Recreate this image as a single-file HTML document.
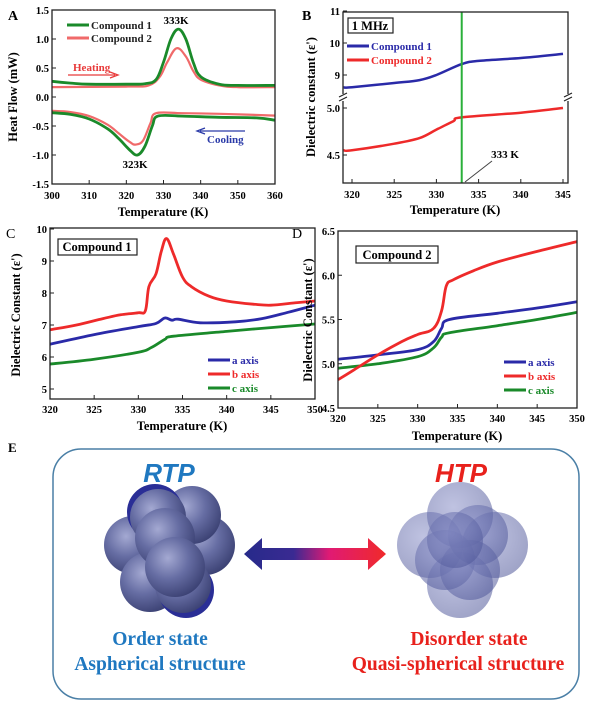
<!DOCTYPE html>
<html><head><meta charset="utf-8"><style>
body{margin:0;background:#fff;}
svg{display:block;font-family:"Liberation Serif",serif;font-weight:bold;}
</style></head><body>
<svg id="fig" width="600" height="709" viewBox="0 0 600 709">
<defs>
<radialGradient id="sph" cx="0.38" cy="0.35" r="0.7">
<stop offset="0" stop-color="#a4a9d2"/><stop offset="0.5" stop-color="#666da3"/><stop offset="1" stop-color="#3a4072"/>
</radialGradient>
<radialGradient id="sph2" cx="0.4" cy="0.38" r="0.7">
<stop offset="0" stop-color="#8b91c9" stop-opacity="0.55"/><stop offset="1" stop-color="#4c5496" stop-opacity="0.55"/>
</radialGradient>
<linearGradient id="arrg" x1="0" x2="1" y1="0" y2="0">
<stop offset="0" stop-color="#262a8a"/><stop offset="0.35" stop-color="#3a2a92"/><stop offset="0.6" stop-color="#e01a74"/><stop offset="1" stop-color="#f02a2a"/>
</linearGradient>
</defs>
<g id="panels"></g>
<!-- Panel E -->
<g>
<text x="8" y="452" font-size="13">E</text>
<rect x="53" y="449" width="526" height="250" rx="28" fill="none" stroke="#4a7fa6" stroke-width="1.5"/>
<text x="169" y="482" font-size="26" font-style="italic" fill="#1f78c0" text-anchor="middle" font-family="Liberation Sans,sans-serif">RTP</text>
<text x="461" y="482" font-size="26" font-style="italic" fill="#e8211c" text-anchor="middle" font-family="Liberation Sans,sans-serif">HTP</text>
<g>
<circle cx="133" cy="545" r="29" fill="url(#sph)"/>
<circle cx="205" cy="545" r="30" fill="url(#sph)"/>
<circle cx="150" cy="582" r="30" fill="url(#sph)"/>
<circle cx="192" cy="515" r="29" fill="url(#sph)"/>
<circle cx="155" cy="512" r="28" fill="#2a2e96"/>
<circle cx="186" cy="590" r="28" fill="#2a2e96"/>
<circle cx="158" cy="517" r="28" fill="url(#sph)"/>
<circle cx="183" cy="585" r="28" fill="url(#sph)"/>
<circle cx="165" cy="538" r="30" fill="url(#sph)"/>
<circle cx="175" cy="567" r="30" fill="url(#sph)"/>
</g>
<g>
<circle cx="430" cy="545" r="33" fill="url(#sph2)"/>
<circle cx="495" cy="545" r="33" fill="url(#sph2)"/>
<circle cx="460" cy="515" r="33" fill="url(#sph2)"/>
<circle cx="460" cy="585" r="33" fill="url(#sph2)"/>
<circle cx="445" cy="560" r="30" fill="url(#sph2)"/>
<circle cx="478" cy="535" r="30" fill="url(#sph2)"/>
<circle cx="470" cy="570" r="30" fill="url(#sph2)"/>
<circle cx="455" cy="540" r="28" fill="url(#sph2)"/>
</g>
<path d="M244,554 L262,538 L262,548 L368,548 L368,538 L386,554 L368,570 L368,560 L262,560 L262,570 Z" fill="url(#arrg)"/>
<g font-size="19.5" text-anchor="middle">
<text x="160" y="645" fill="#1f78c0">Order state</text>
<text x="160" y="670" fill="#1f78c0">Aspherical structure</text>
<text x="469" y="645" fill="#e8211c">Disorder state</text>
<text x="458" y="670" fill="#e8211c">Quasi-spherical structure</text>
</g>
</g>
</svg>
<script>
// ---- Panel A data ----
const aHeatC1X=[300,305,310,320,325,328,330,332,334,336,338,340,345,350,360];
const aHeatC1Y=[0.27,0.24,0.22,0.22,0.23,0.30,0.60,1.00,1.17,1.00,0.60,0.35,0.22,0.20,0.20];
const aHeatC2X=[300,320,326,329,331,333.5,336,338,340,345,350,360];
const aHeatC2Y=[0.17,0.18,0.20,0.35,0.60,0.84,0.70,0.45,0.30,0.20,0.17,0.17];
const aCoolC1X=[300,305,310,315,318,321,323,325,327,328.5,335,345,355,360];
const aCoolC1Y=[-0.27,-0.30,-0.38,-0.55,-0.72,-0.92,-1.00,-0.85,-0.50,-0.33,-0.33,-0.35,-0.36,-0.40];
const aCoolC2X=[300,305,310,315,318,321,322.5,324.5,326.5,328,335,345,360];
const aCoolC2Y=[-0.24,-0.26,-0.33,-0.48,-0.63,-0.78,-0.82,-0.75,-0.45,-0.28,-0.28,-0.29,-0.32];
const aXTicks=[300,310,320,330,340,350,360];
const aYTicks=[-1.5,-1.0,-0.5,0.0,0.5,1.0,1.5];
// ---- Panel B data ----
const bX=[319,320,325,328,330,333,335,340,345];
const bC1=[8.61,8.62,8.75,8.84,9.0,9.34,9.44,9.53,9.66];
const bC2X=[319,320,325,328,330,332,333,340,345];
const bC2=[4.55,4.55,4.62,4.68,4.77,4.86,4.9,4.95,5.0];
const bXTicks=[320,325,330,335,340,345];
const bYTicksUpper=[9,10,11];
const bYTicksLower=[4.5,5.0];
// ---- Panel C data ----
const cBX=[320,323,326,328,330,330.8,331.2,332,332.6,333.2,334,335,336,338,340,343,345,348,350];
const cBY=[6.85,7.0,7.2,7.32,7.38,7.45,8.2,8.6,9.3,9.7,9.2,8.5,8.2,7.9,7.75,7.65,7.62,7.7,7.75];
const cAX=[320,325,330,332,333,333.8,334.5,337,341,344,347,350];
const cAY=[6.4,6.7,6.95,7.05,7.22,7.15,7.18,7.07,7.1,7.2,7.4,7.62];
const cCX=[320,325,330,331.5,333,334,340,345,350];
const cCY=[5.78,5.93,6.15,6.3,6.55,6.65,6.8,6.92,7.03];
const cXTicks=[320,325,330,335,340,345,350];
const cYTicks=[5,6,7,8,9,10];
// ---- Panel D data ----
const dBX=[320,322,325,328,330,332,333,333.6,334.5,337,340,345,350];
const dBY=[4.82,4.93,5.1,5.25,5.33,5.4,5.6,5.88,5.95,6.05,6.15,6.27,6.38];
const dAX=[320,325,330,332,333,334,340,345,350];
const dAY=[5.05,5.1,5.16,5.25,5.4,5.5,5.57,5.63,5.7];
const dCX=[320,325,330,332,333,334,340,345,350];
const dCY=[4.95,5.0,5.08,5.18,5.3,5.35,5.43,5.5,5.58];
const dXTicks=[320,325,330,335,340,345,350];
const dYTicks=[4.5,5.0,5.5,6.0,6.5];

const NS="http://www.w3.org/2000/svg";
const root=document.getElementById('panels');
function el(tag,attrs,parent,text){const e=document.createElementNS(NS,tag);for(const k in attrs)e.setAttribute(k,attrs[k]);if(text!==undefined)e.textContent=text;(parent||root).appendChild(e);return e;}
function lin(d0,d1,r0,r1){return v=>r0+(v-d0)*(r1-r0)/(d1-d0);}
function pathD(xs,ys,sx,sy){
  const P=xs.map((x,i)=>[sx(x),sy(ys[i])]);
  let d='M'+P[0][0].toFixed(1)+','+P[0][1].toFixed(1);
  for(let i=0;i<P.length-1;i++){
    const p0=P[Math.max(0,i-1)],p1=P[i],p2=P[i+1],p3=P[Math.min(P.length-1,i+2)];
    const t=0.18;
    const c1=[p1[0]+(p2[0]-p0[0])*t,p1[1]+(p2[1]-p0[1])*t];
    const c2=[p2[0]-(p3[0]-p1[0])*t,p2[1]-(p3[1]-p1[1])*t];
    d+=` C${c1[0].toFixed(1)},${c1[1].toFixed(1)} ${c2[0].toFixed(1)},${c2[1].toFixed(1)} ${p2[0].toFixed(1)},${p2[1].toFixed(1)}`;
  }
  return d;
}
function series(g,xs,ys,sx,sy,color,w,name){
  const p=el('path',{d:pathD(xs,ys,sx,sy),fill:'none',stroke:color,'stroke-width':w,'stroke-linejoin':'round'},g);
  
  
}
function frame(g,x0,y0,x1,y1){const r=el('rect',{x:x0,y:y0,width:x1-x0,height:y1-y0,fill:'none',stroke:'#222','stroke-width':1.3},g);
  
  }
function xAxis(g,ticks,sx,y1,labY,fmt){
  ticks.forEach(t=>{el('line',{x1:sx(t),x2:sx(t),y1:y1,y2:y1-4,stroke:'#222'},g);
    const tx=el('text',{x:sx(t),y:labY,'font-size':10.5,'text-anchor':'middle'},g,fmt?fmt(t):t);
    
    });
}
function yAxis(g,ticks,sy,x0,fmt){
  ticks.forEach(t=>{el('line',{x1:x0,x2:x0+4,y1:sy(t),y2:sy(t),stroke:'#222'},g);
    const tx=el('text',{x:x0-3,y:sy(t)+4,'font-size':10.5,'text-anchor':'end'},g,fmt?fmt(t):t);
    
    });
}
function title(g,x,y,txt,rot,name){const t=el('text',{x:x,y:y,'font-size':12.5,'text-anchor':'middle',transform:rot?`rotate(-90 ${x} ${y})`:''},g,txt);
  
  }
function legendEntry(g,x,y,color,txt,tc,name){el('line',{x1:x,x2:x+22,y1:y,y2:y,stroke:color,'stroke-width':3},g);
  const t=el('text',{x:x+24,y:y+4,'font-size':11,fill:tc},g,txt);
  
  }
const f1=v=>v.toFixed(1);

// ===== Panel A =====
(function(){
 const g=el('g',{});
 
 
 const sx=lin(300,360,52,275), sy=lin(-1.5,1.5,184,10);
 el('text',{x:8,y:20,'font-size':14},g,'A');
 series(g,aHeatC2X,aHeatC2Y,sx,sy,'#f06a6a',2.2,'compound2-heating');
 series(g,aCoolC2X,aCoolC2Y,sx,sy,'#f06a6a',2.2,'compound2-cooling');
 series(g,aHeatC1X,aHeatC1Y,sx,sy,'#1a8a2a',2.8,'compound1-heating');
 series(g,aCoolC1X,aCoolC1Y,sx,sy,'#1a8a2a',2.8,'compound1-cooling');
 frame(g,52,10,275,184);
 xAxis(g,aXTicks,sx,184,199);
 yAxis(g,aYTicks,sy,52,f1);
 title(g,163,216,'Temperature (K)',false,'x-axis-title-a');
 title(g,17,97,'Heat Flow (mW)',true,'y-axis-title-a');
 legendEntry(g,67,25,'#1a8a2a','Compound 1','#222','legend-compound1-a');
 legendEntry(g,67,38,'#f06a6a','Compound 2','#222','legend-compound2-a');
 el('text',{x:176,y:24,'font-size':11,'text-anchor':'middle'},g,'333K');
 el('text',{x:135,y:168,'font-size':11,'text-anchor':'middle'},g,'323K');
 el('text',{x:73,y:71,'font-size':11,fill:'#e83a3a'},g,'Heating');
 el('path',{d:'M68,75 L115,75 M110,72 L118,75 L110,78',stroke:'#e83a3a',fill:'none','stroke-width':1.3},g);
 el('text',{x:207,y:143,'font-size':11,fill:'#2a3aa8'},g,'Cooling');
 el('path',{d:'M245,131 L200,131 M205,128 L197,131 L205,134',stroke:'#2a3aa8',fill:'none','stroke-width':1.3},g);
})();

// ===== Panel B =====
(function(){
 const g=el('g',{});
 
 
 const sx=lin(320,345,352,563);
 const syU=lin(9,10,75,43), syL=lin(4.5,5.0,155,108);
 el('text',{x:302,y:20,'font-size':14},g,'B');
 series(g,bX,bC1,sx,syU,'#2a2aa8',2.5,'compound1-line-b');
 series(g,bC2X,bC2,sx,syL,'#ee2a2a',2.5,'compound2-line-b');
 const gl=el('line',{x1:sx(333),x2:sx(333),y1:12,y2:183,stroke:'#2ab03a','stroke-width':2},g);
 
 
 frame(g,343,12,568,183);
 el('rect',{x:339,y:94,width:8,height:7,fill:'#fff'},g);
 el('rect',{x:564,y:94,width:8,height:7,fill:'#fff'},g);
 el('path',{d:'M339,97 L347,93 M339,101 L347,97 M564,97 L572,93 M564,101 L572,97',stroke:'#222','stroke-width':1.2},g);
 xAxis(g,bXTicks,sx,183,198);
 yAxis(g,bYTicksUpper,syU,343);
 yAxis(g,bYTicksLower,syL,343,f1);
 title(g,455,214,'Temperature (K)',false,'x-axis-title-b');
 title(g,315,97,"Dielectric constant (ε')",true,'y-axis-title-b');
 const bx=el('rect',{x:348,y:18,width:45,height:15,fill:'#fff',stroke:'#222','stroke-width':1.2},g);
 
 
 el('text',{x:370,y:30,'font-size':12.5,'text-anchor':'middle'},g,'1 MHz');
 legendEntry(g,347,46,'#2a2aa8','Compound  1','#2a2aa8','legend-compound1-b');
 legendEntry(g,347,60,'#ee2a2a','Compound  2','#ee2a2a','legend-compound2-b');
 el('text',{x:505,y:158,'font-size':11,'text-anchor':'middle'},g,'333 K');
 el('line',{x1:492,y1:161,x2:465,y2:182,stroke:'#444','stroke-width':1},g);
})();

// ===== Panel C =====
(function(){
 const g=el('g',{});
 
 
 const sx=lin(320,350,50,315), sy=lin(5,10,389,229);
 el('text',{x:6,y:238,'font-size':14,'font-weight':'normal'},g,'C');
 series(g,cCX,cCY,sx,sy,'#1a8a2a',2.8,'c-axis-line-c');
 series(g,cAX,cAY,sx,sy,'#2a2aa8',2.8,'a-axis-line-c');
 series(g,cBX,cBY,sx,sy,'#ee2a2a',2.8,'b-axis-line-c');
 frame(g,50,228,315,399);
 xAxis(g,cXTicks,sx,399,413);
 yAxis(g,cYTicks,sy,50);
 title(g,182,430,'Temperature (K)',false,'x-axis-title-c');
 title(g,20,315,"Dielectric Constant (ε')",true,'y-axis-title-c');
 el('rect',{x:58,y:239,width:79,height:16,fill:'#fff',stroke:'#222','stroke-width':1.2},g);
 el('text',{x:97,y:251,'font-size':12.5,'text-anchor':'middle'},g,'Compound 1');
 legendEntry(g,208,360,'#2a2aa8','a axis','#2a2aa8','legend-a-axis-c');
 legendEntry(g,208,374,'#ee2a2a','b axis','#ee2a2a','legend-b-axis-c');
 legendEntry(g,208,388,'#1a8a2a','c axis','#1a8a2a','legend-c-axis-c');
})();

// ===== Panel D =====
(function(){
 const g=el('g',{});
 
 
 const sx=lin(320,350,338,577), sy=lin(4.5,6.5,408,231);
 el('text',{x:292,y:238,'font-size':14,'font-weight':'normal'},g,'D');
 series(g,dCX,dCY,sx,sy,'#1a8a2a',2.8,'c-axis-line-d');
 series(g,dAX,dAY,sx,sy,'#2a2aa8',2.8,'a-axis-line-d');
 series(g,dBX,dBY,sx,sy,'#ee2a2a',2.8,'b-axis-line-d');
 frame(g,338,231,577,408);
 xAxis(g,dXTicks,sx,408,422);
 yAxis(g,dYTicks,sy,338,f1);
 title(g,457,440,'Temperature (K)',false,'x-axis-title-d');
 title(g,312,320,"Dielectric Constant (ε')",true,'y-axis-title-d');
 el('rect',{x:356,y:246,width:82,height:17,fill:'#fff',stroke:'#222','stroke-width':1.2},g);
 el('text',{x:397,y:259,'font-size':12.5,'text-anchor':'middle'},g,'Compound 2');
 legendEntry(g,504,362,'#2a2aa8','a axis','#2a2aa8','legend-a-axis-d');
 legendEntry(g,504,376,'#ee2a2a','b axis','#ee2a2a','legend-b-axis-d');
 legendEntry(g,504,390,'#1a8a2a','c axis','#1a8a2a','legend-c-axis-d');
})();
</script>
</body></html>
